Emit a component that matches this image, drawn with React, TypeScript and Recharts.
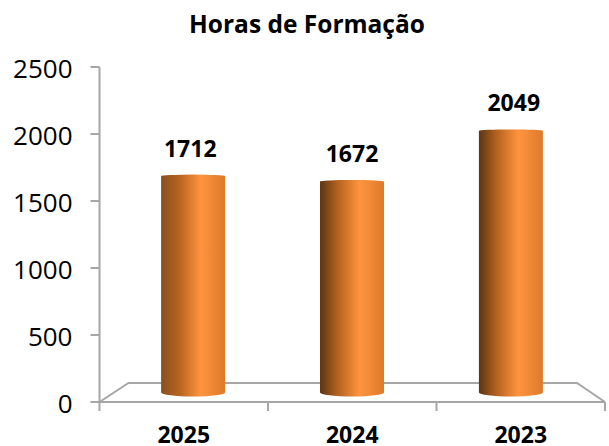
import React from 'react';
import { ComposedChart, Bar, XAxis, YAxis, LabelList } from 'recharts';

// Values
const years = ['2025', '2024', '2023'];
const hours = [1712, 1672, 2049];
const yTicks = [0, 500, 1000, 1500, 2000, 2500];

const chartData = years.map((year, i) => ({ year, hours: hours[i] }));

const WIDTH = 609;
const HEIGHT = 446;
const X_AXIS_HEIGHT = 44;
const Y_AXIS_WIDTH = 99.5;
const margin = { top: 67, right: 4, bottom: 0, left: 0 };
const plotLeft = margin.left + Y_AXIS_WIDTH;
const plotRight = WIDTH - margin.right;
const plotBottom = HEIGHT - X_AXIS_HEIGHT;
const plotMid = (plotLeft + plotRight) / 2;

const AXIS_COLOR = '#a6a6a6';
const LABEL_FONT = '"Open Sans", sans-serif';

// left edge of the cylinder is lighter on the first bar
const edgeColors = ['#8a5020', '#5e3413', '#5e3413'];

const Gradients = () => (
  <defs>
    {edgeColors.map((edge, i) => (
      <linearGradient key={i} id={`cyl${i}`} x1="0" y1="0" x2="1" y2="0">
        <stop offset="0%" stopColor={edge} />
        <stop offset="28%" stopColor="#b5631f" />
        <stop offset="62%" stopColor="#ff9440" />
        <stop offset="100%" stopColor="#dd7a2a" />
      </linearGradient>
    ))}
  </defs>
);

// fake 3D floor and the ticks between the categories
const Floor = () => {
  const band = (plotRight - plotLeft) / years.length;
  const back = plotBottom - 19;
  return (
    <g fill="none" stroke={AXIS_COLOR} strokeWidth={2}>
      <polyline points={`${plotLeft},${plotBottom} ${plotLeft + 29},${back} ${plotRight - 28},${back} ${plotRight},${plotBottom}`} />
      {[0, 1, 2, 3].map((i) => (
        <line key={i} x1={plotLeft + band * i} x2={plotLeft + band * i} y1={plotBottom} y2={plotBottom + 9} />
      ))}
    </g>
  );
};

// bars sit on the back of the floor, so they are pulled toward the middle
const Cylinder = (props: any) => {
  const { x, y, width, height, index } = props;
  const cx = plotMid + (x + width / 2 - plotMid) * 0.943;
  const left = cx - width / 2;
  const right = cx + width / 2;
  const top = y + 3.5;
  const base = y + height - 9.5;
  const path = `M${left},${top} A${width / 2},1.5 0 0 1 ${right},${top} L${right},${base} A${width / 2},4 0 0 1 ${left},${base} Z`;
  return <path d={path} fill={`url(#cyl${index})`} />;
};

const ValueLabel = (props: any) => {
  const { x, y, width, value } = props;
  const cx = plotMid + (x + width / 2 - plotMid) * 0.96;
  return (
    <text x={cx} y={y - 16} textAnchor="middle" fontFamily={LABEL_FONT} fontWeight={700} fontSize={23} fill="#000">
      {value}
    </text>
  );
};

export default function App() {
  return (
    <div style={{ position: 'absolute', left: 0, top: 0 }}>
      <ComposedChart width={WIDTH} height={HEIGHT} data={chartData} margin={margin} barSize={64}>
        <Gradients />
        <Floor />
        <text x={307} y={33} textAnchor="middle" fontFamily={LABEL_FONT} fontWeight={700} fontSize={24.5} fill="#000">
          Horas de Formação
        </text>
        <XAxis
          dataKey="year"
          axisLine={{ stroke: AXIS_COLOR, strokeWidth: 2 }}
          tickLine={false}
          height={X_AXIS_HEIGHT}
          tickMargin={19}
          tick={{ fill: '#000', fontFamily: LABEL_FONT, fontWeight: 700, fontSize: 23 }}
        />
        <YAxis
          width={Y_AXIS_WIDTH}
          domain={[0, 2500]}
          ticks={yTicks}
          axisLine={{ stroke: AXIS_COLOR, strokeWidth: 2 }}
          tickLine={{ stroke: AXIS_COLOR, strokeWidth: 2 }}
          tickSize={9}
          tickMargin={18}
          tick={{ fill: '#000', fontFamily: LABEL_FONT, fontSize: 26, dy: 1.5 }}
        />
        <Bar dataKey="hours" shape={<Cylinder />} isAnimationActive={false}>
          <LabelList dataKey="hours" content={<ValueLabel />} />
        </Bar>
      </ComposedChart>
    </div>
  );
}
